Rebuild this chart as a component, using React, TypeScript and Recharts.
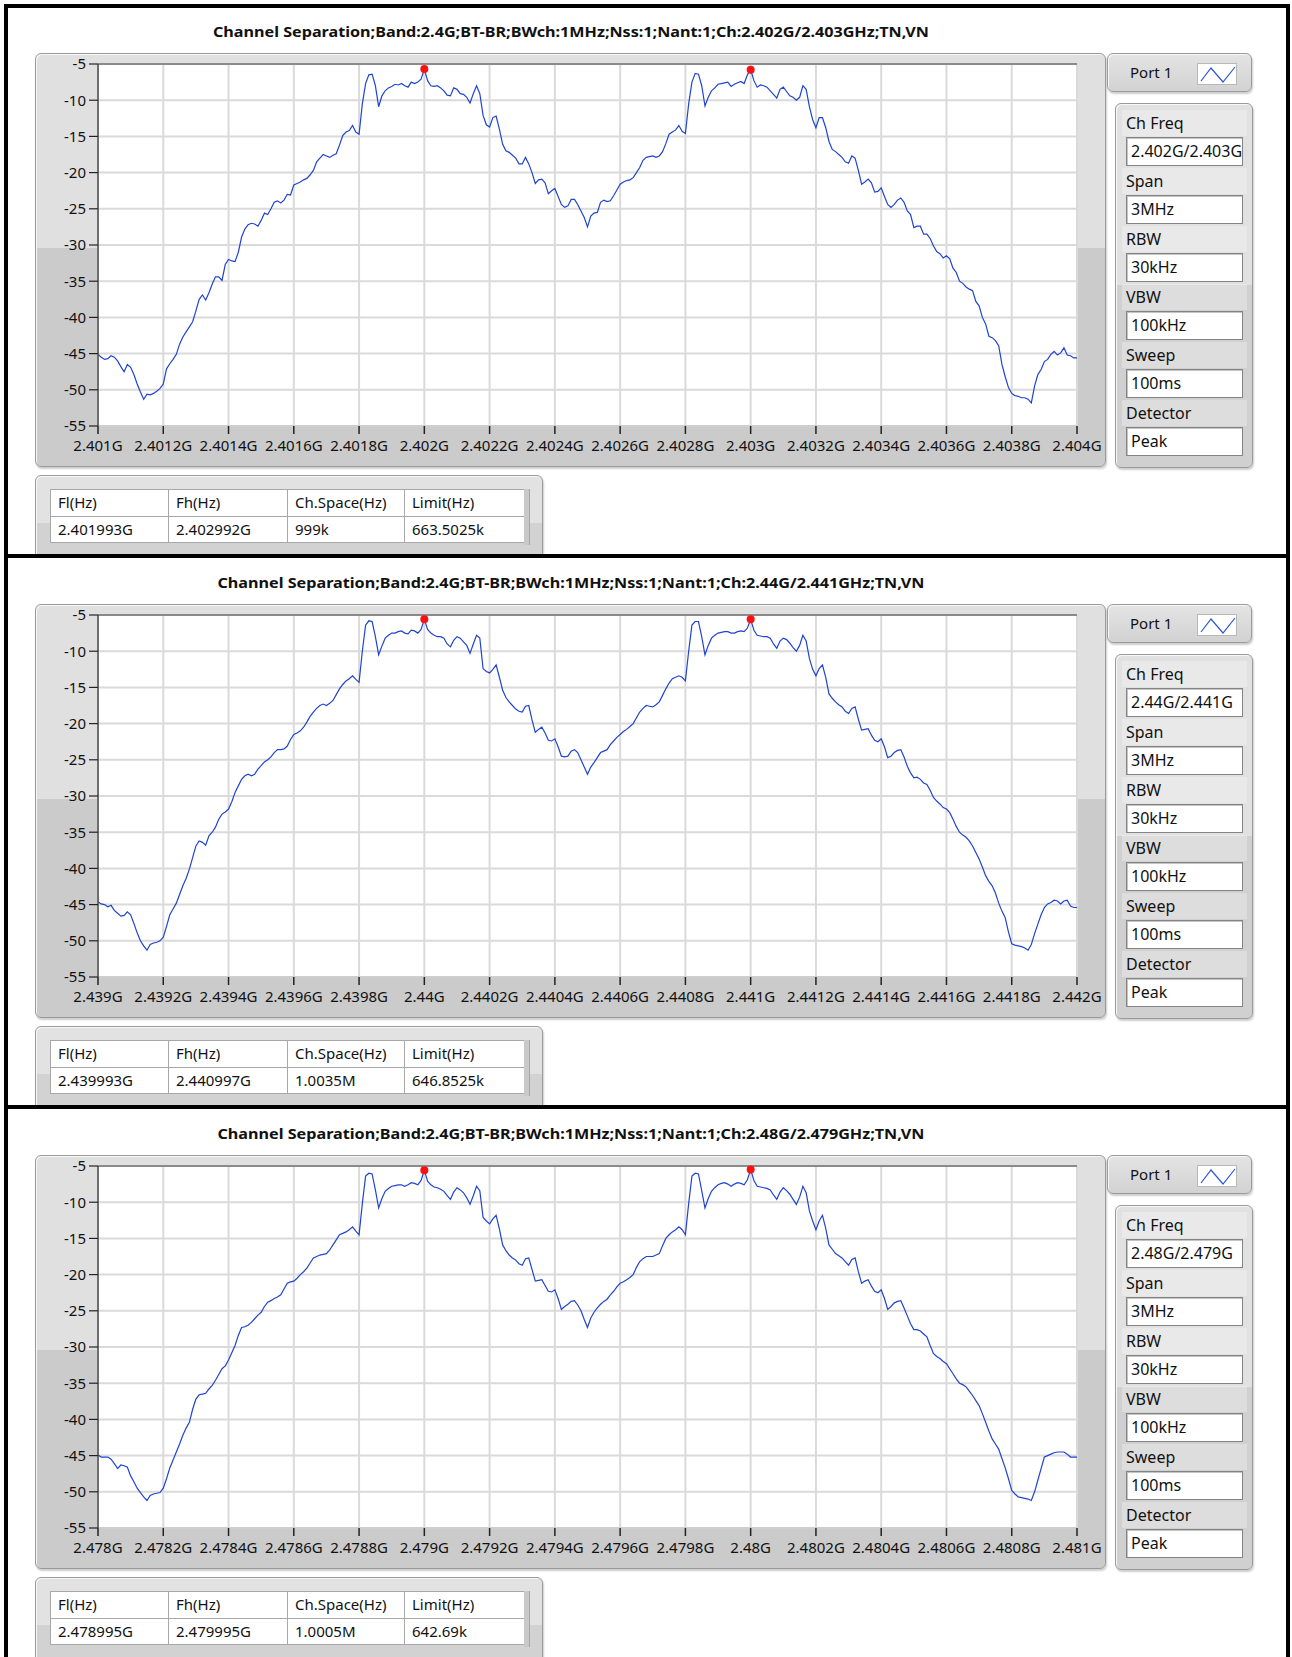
import React from 'react';
import { LineChart, Line, XAxis, YAxis, CartesianGrid, ReferenceDot, ReferenceLine } from 'recharts';

// ---------- data ----------
const titles = [
  'Channel Separation;Band:2.4G;BT-BR;BWch:1MHz;Nss:1;Nant:1;Ch:2.402G/2.403GHz;TN,VN',
  'Channel Separation;Band:2.4G;BT-BR;BWch:1MHz;Nss:1;Nant:1;Ch:2.44G/2.441GHz;TN,VN',
  'Channel Separation;Band:2.4G;BT-BR;BWch:1MHz;Nss:1;Nant:1;Ch:2.48G/2.479GHz;TN,VN',
];

const xLabels1 = ['2.401G', '2.4012G', '2.4014G', '2.4016G', '2.4018G', '2.402G', '2.4022G', '2.4024G', '2.4026G', '2.4028G', '2.403G', '2.4032G', '2.4034G', '2.4036G', '2.4038G', '2.404G'];
const xLabels2 = ['2.439G', '2.4392G', '2.4394G', '2.4396G', '2.4398G', '2.44G', '2.4402G', '2.4404G', '2.4406G', '2.4408G', '2.441G', '2.4412G', '2.4414G', '2.4416G', '2.4418G', '2.442G'];
const xLabels3 = ['2.478G', '2.4782G', '2.4784G', '2.4786G', '2.4788G', '2.479G', '2.4792G', '2.4794G', '2.4796G', '2.4798G', '2.48G', '2.4802G', '2.4804G', '2.4806G', '2.4808G', '2.481G'];
const xTickIdx = [0, 20, 40, 60, 80, 100, 120, 140, 160, 180, 200, 220, 240, 260, 280, 300];
const yTicks = [-5, -10, -15, -20, -25, -30, -35, -40, -45, -50, -55];

// trace samples, 301 points across the 3 MHz span (dBm), 10 kHz apart
const trace1 = [
  -45.1, -45.5, -45.8, -45.7, -45.3, -45.5, -46.0, -46.8, -47.5, -46.5,
  -46.9, -47.9, -49.2, -50.3, -51.3, -50.6, -50.7, -50.5, -50.2, -49.8,
  -49.2, -47.1, -46.4, -45.8, -45.1, -43.7, -42.7, -42.0, -41.3, -40.6,
  -39.1, -37.5, -36.9, -37.6, -36.6, -35.4, -34.4, -34.4, -34.9, -32.7,
  -32.0, -32.2, -32.3, -31.0, -28.9, -27.8, -27.2, -27.0, -27.1, -27.4,
  -26.6, -25.6, -25.8, -25.0, -24.1, -23.9, -24.2, -23.8, -23.0, -23.1,
  -21.7, -21.5, -21.3, -21.0, -20.8, -20.3, -19.7, -18.5, -18.0, -17.5,
  -17.7, -17.9, -17.6, -17.4, -16.2, -14.9, -14.4, -14.2, -13.5, -14.4,
  -14.7, -10.5, -7.7, -6.5, -6.4, -8.0, -10.9, -9.4, -8.7, -8.3,
  -8.1, -7.8, -7.9, -7.7, -8.0, -8.2, -7.5, -7.7, -7.5, -7.1,
  -5.7, -7.3, -8.0, -8.1, -8.0, -8.3, -8.7, -9.3, -9.4, -8.3,
  -8.5, -9.1, -9.2, -9.6, -10.4, -9.1, -8.0, -9.1, -12.1, -13.4,
  -13.7, -12.4, -12.2, -14.0, -16.1, -17.0, -17.2, -17.6, -18.0, -18.8,
  -18.8, -17.9, -18.8, -20.0, -21.5, -21.0, -20.9, -21.4, -22.9, -22.5,
  -22.2, -23.3, -24.4, -24.8, -24.6, -23.7, -23.7, -24.4, -25.3, -26.2,
  -27.5, -26.0, -25.6, -25.5, -24.1, -23.8, -24.0, -23.9, -23.2, -22.4,
  -21.6, -21.3, -21.1, -21.0, -20.7, -20.0, -19.3, -18.3, -17.9, -17.8,
  -17.7, -17.9, -17.7, -17.1, -16.0, -14.7, -14.4, -14.1, -13.5, -14.3,
  -14.6, -10.5, -7.5, -6.3, -6.4, -8.0, -10.8, -9.6, -8.7, -8.3,
  -7.8, -7.7, -7.6, -7.5, -8.1, -7.8, -7.6, -7.4, -7.7, -6.5,
  -5.8, -7.3, -8.2, -7.9, -8.0, -8.2, -8.7, -9.2, -9.7, -8.5,
  -8.2, -8.8, -9.4, -9.6, -10.0, -9.6, -8.0, -8.5, -10.9, -12.7,
  -13.8, -12.4, -12.4, -13.8, -15.7, -16.8, -17.1, -17.5, -17.9, -18.5,
  -18.7, -17.7, -18.0, -19.7, -21.6, -21.3, -20.9, -21.4, -22.7, -22.6,
  -22.1, -23.3, -24.4, -24.8, -24.4, -23.8, -23.5, -24.1, -25.3, -25.8,
  -27.6, -27.4, -27.4, -28.5, -28.5, -29.1, -30.1, -30.9, -31.2, -31.8,
  -31.5, -31.9, -33.2, -33.8, -35.0, -35.3, -35.8, -36.1, -36.3, -37.8,
  -38.4, -40.0, -40.9, -42.6, -42.8, -43.2, -43.9, -46.5, -48.2, -49.7,
  -50.5, -50.8, -50.9, -51.1, -51.1, -51.3, -51.8, -49.5, -47.9, -47.2,
  -46.1, -45.8, -45.1, -44.7, -45.2, -44.9, -44.2, -45.2, -45.3, -45.6,
  -45.6,
];
const trace2 = [
  -44.6, -44.9, -45.0, -45.3, -45.1, -45.8, -46.2, -46.6, -46.5, -46.0,
  -46.4, -47.6, -48.9, -50.0, -50.7, -51.3, -50.5, -50.3, -50.2, -50.0,
  -49.5, -48.0, -46.4, -45.6, -44.8, -43.6, -42.4, -41.4, -40.1, -38.5,
  -36.9, -36.2, -36.4, -36.8, -35.5, -35.0, -34.3, -33.2, -32.5, -32.2,
  -31.8, -30.8, -29.5, -28.6, -27.7, -27.2, -27.0, -27.2, -27.0, -26.3,
  -25.8, -25.3, -25.0, -24.6, -24.0, -23.6, -23.6, -23.5, -23.1, -22.2,
  -21.5, -21.3, -21.0, -20.5, -19.8, -19.0, -18.4, -17.9, -17.5, -17.3,
  -17.5, -17.2, -16.8, -16.0, -15.2, -14.6, -14.1, -13.8, -13.4, -13.9,
  -14.3, -10.0, -6.4, -5.8, -5.9, -8.0, -10.5, -9.3, -8.2, -7.8,
  -7.5, -7.5, -7.3, -7.2, -7.5, -7.6, -7.1, -7.2, -7.5, -7.0,
  -5.6, -7.0, -7.5, -7.8, -8.0, -8.0, -8.2, -9.0, -9.4, -8.5,
  -8.0, -8.2, -8.7, -9.2, -10.3, -9.0, -7.8, -8.2, -12.4, -12.8,
  -13.0, -12.5, -11.9, -13.6, -15.4, -16.4, -17.0, -17.5, -18.0, -18.3,
  -18.4, -17.6, -17.5, -19.5, -21.2, -20.8, -20.5, -21.3, -22.3, -22.4,
  -22.1, -23.2, -24.5, -24.6, -24.5, -23.8, -23.6, -24.0, -25.0, -26.0,
  -27.0, -26.0, -25.4, -24.7, -24.0, -23.8, -23.6, -22.9, -22.4, -21.9,
  -21.5, -21.1, -20.8, -20.4, -20.0, -19.2, -18.4, -17.9, -17.5, -17.6,
  -17.7, -17.4, -17.0, -16.1, -15.2, -14.4, -13.8, -13.6, -13.4, -13.6,
  -14.1, -10.0, -6.4, -5.9, -5.9, -8.0, -10.5, -9.2, -8.2, -7.8,
  -7.5, -7.4, -7.3, -7.3, -7.5, -7.5, -7.3, -7.2, -7.3, -6.8,
  -5.6, -7.1, -7.8, -7.9, -8.0, -8.0, -8.2, -9.0, -9.6, -8.6,
  -8.2, -8.4, -8.9, -9.5, -10.0, -9.2, -7.8, -8.6, -11.0, -12.5,
  -13.4, -12.4, -11.9, -13.6, -15.9, -16.5, -17.0, -17.4, -17.7, -18.3,
  -18.6, -17.9, -17.7, -19.4, -20.9, -20.8, -20.7, -21.6, -22.3, -22.5,
  -22.1, -23.2, -24.7, -24.5, -24.0, -23.7, -23.6, -24.6, -25.9, -26.8,
  -27.5, -27.4, -27.7, -28.2, -28.4, -29.2, -30.2, -30.7, -31.1, -31.6,
  -31.8, -32.3, -33.2, -34.2, -35.0, -35.4, -35.7, -36.2, -36.9, -37.8,
  -38.7, -39.8, -41.0, -41.8, -42.4, -43.4, -44.8, -45.9, -46.8, -48.8,
  -50.4, -50.6, -50.7, -50.8, -51.0, -51.3, -50.5, -49.0, -47.7, -46.4,
  -45.4, -44.9, -44.7, -44.4, -44.5, -44.9, -44.5, -44.4, -45.2, -45.4,
  -45.4,
];
const trace3 = [
  -44.9, -45.2, -45.2, -45.2, -45.5, -46.1, -46.8, -46.3, -46.4, -46.6,
  -47.8, -48.6, -49.5, -50.1, -50.7, -51.2, -50.5, -50.3, -50.2, -50.1,
  -49.5, -48.2, -46.7, -45.6, -44.5, -43.4, -42.2, -41.2, -40.4, -38.6,
  -37.2, -36.6, -36.5, -36.4, -35.8, -35.3, -34.6, -33.8, -33.0, -32.6,
  -31.8, -30.8, -29.8, -28.4, -27.3, -27.2, -27.0, -26.6, -26.1, -25.6,
  -25.2, -24.4, -23.8, -23.6, -23.3, -23.1, -22.8, -22.0, -21.2, -21.0,
  -20.9, -20.5, -20.0, -19.6, -19.1, -18.4, -17.7, -17.5, -17.3, -17.2,
  -17.1, -16.6, -15.9, -15.2, -14.5, -14.3, -14.1, -13.8, -13.4, -14.0,
  -14.5, -10.2, -6.4, -6.0, -6.1, -8.3, -10.8, -9.5, -8.5, -8.1,
  -7.8, -7.7, -7.6, -7.6, -7.8, -7.6, -7.3, -7.4, -7.6, -7.0,
  -5.6, -7.1, -7.6, -7.9, -8.0, -8.2, -8.5, -9.1, -9.6, -8.6,
  -8.0, -8.3, -8.7, -9.4, -10.3, -9.1, -7.8, -8.4, -12.1, -12.6,
  -13.0, -12.3, -11.8, -13.7, -15.9, -16.7, -17.3, -17.7, -18.0, -18.5,
  -18.7, -17.8, -17.7, -19.3, -20.9, -20.8, -20.7, -21.5, -22.3, -22.4,
  -22.1, -23.3, -24.8, -24.4, -24.1, -23.7, -23.6, -24.2, -25.0, -26.2,
  -27.3, -26.0, -25.2, -24.6, -24.1, -23.7, -23.4, -22.8, -22.3, -21.7,
  -21.2, -21.0, -20.7, -20.4, -20.0, -19.0, -18.2, -17.8, -17.5, -17.5,
  -17.5, -17.3, -17.1, -16.0, -15.0, -14.5, -14.1, -13.8, -13.4, -13.8,
  -14.5, -10.2, -6.4, -6.0, -6.1, -8.4, -10.8, -9.5, -8.5, -8.0,
  -7.6, -7.4, -7.3, -7.5, -7.8, -7.5, -7.3, -7.4, -7.6, -6.9,
  -5.5, -7.0, -7.8, -7.9, -8.0, -8.1, -8.3, -9.0, -9.6, -8.6,
  -8.0, -8.4, -8.9, -9.6, -10.3, -9.3, -7.8, -8.7, -11.2, -12.6,
  -13.8, -12.6, -11.8, -13.6, -15.9, -16.5, -17.1, -17.4, -17.7, -18.2,
  -18.7, -17.9, -17.7, -19.6, -21.2, -20.9, -20.7, -21.6, -22.3, -22.5,
  -22.1, -23.3, -24.8, -24.4, -23.9, -23.7, -23.6, -24.6, -25.7, -26.8,
  -27.6, -27.6, -27.8, -28.2, -28.6, -29.8, -30.9, -31.3, -31.6, -32.0,
  -32.3, -33.0, -33.7, -34.4, -35.0, -35.2, -35.5, -36.1, -36.7, -37.4,
  -38.1, -39.2, -40.4, -41.6, -42.7, -43.4, -44.1, -45.4, -46.7, -48.2,
  -49.8, -50.3, -50.7, -50.8, -50.9, -51.0, -51.2, -50.0, -48.4, -46.8,
  -45.2, -45.0, -44.8, -44.6, -44.5, -44.5, -44.5, -44.8, -45.2, -45.2,
  -45.2,
];

const markers1 = [{ i: 100, v: -5.7 }, { i: 200, v: -5.8 }];
const markers2 = [{ i: 100, v: -5.6 }, { i: 200, v: -5.6 }];
const markers3 = [{ i: 100, v: -5.6 }, { i: 200, v: -5.5 }];

const settingLabels = ['Ch Freq', 'Span', 'RBW', 'VBW', 'Sweep', 'Detector'];
const settingValues1 = ['2.402G/2.403G', '3MHz', '30kHz', '100kHz', '100ms', 'Peak'];
const settingValues2 = ['2.44G/2.441G', '3MHz', '30kHz', '100kHz', '100ms', 'Peak'];
const settingValues3 = ['2.48G/2.479G', '3MHz', '30kHz', '100kHz', '100ms', 'Peak'];

const tableHeader = ['Fl(Hz)', 'Fh(Hz)', 'Ch.Space(Hz)', 'Limit(Hz)'];
const tableRow1 = ['2.401993G', '2.402992G', '999k', '663.5025k'];
const tableRow2 = ['2.439993G', '2.440997G', '1.0035M', '646.8525k'];
const tableRow3 = ['2.478995G', '2.479995G', '1.0005M', '642.69k'];

const portLabel = 'Port 1';

// ---------- styling ----------
const FONT = '"Noto Sans", "DejaVu Sans", sans-serif';
const TEXT = '#111111';

function Spectrum({ trace, markers, xLabels }: any) {
  const rows = trace.map((v: number, i: number) => ({ i, v }));
  const tickStyle = { fill: TEXT, fontSize: 15, fontFamily: FONT };
  return (
    <LineChart width={1071} height={414} data={rows} margin={{ top: 11, right: 29, bottom: 0, left: 0 }}>
      <CartesianGrid stroke="#dadada" strokeWidth={2} fill="#ffffff" />
      <XAxis
        dataKey="i"
        type="number"
        domain={[0, 300]}
        ticks={xTickIdx}
        interval={0}
        tickFormatter={(t: number) => xLabels[Math.round(t / 20)]}
        height={41}
        tickSize={8}
        tickMargin={6}
        axisLine={{ stroke: '#c2c2c2', strokeWidth: 1 }}
        tickLine={{ stroke: '#222', strokeWidth: 1.5 }}
        tick={tickStyle}
      />
      <YAxis
        type="number"
        domain={[-55, -5]}
        ticks={yTicks}
        interval={0}
        width={63}
        tickSize={9}
        tickMargin={3}
        axisLine={{ stroke: '#4a4a4a', strokeWidth: 1.5 }}
        tickLine={{ stroke: '#222', strokeWidth: 1.2 }}
        tick={tickStyle}
      />
      <ReferenceLine y={-5} stroke="#8a8a8a" strokeWidth={2} />
      <Line dataKey="v" stroke="#1f44d2" strokeWidth={1.2} dot={false} isAnimationActive={false} />
      {markers.map((m: any, k: number) => (
        <ReferenceDot key={k} x={m.i} y={m.v} r={4} fill="#ff1010" stroke="none" />
      ))}
    </LineChart>
  );
}

const bevel = {
  boxSizing: 'border-box' as const,
  border: '1px solid #9a9a9a',
  borderRadius: 6,
  boxShadow: '1px 2px 2px rgba(0,0,0,0.2), inset 1px 1px 0 #f7f7f7',
};

function Panel({ top, height, title, titleWidth, trace, markers, xLabels, values, row }: any) {
  return (
    <div style={{ position: 'absolute', left: 0, top, width: 1292, height, overflow: 'hidden' }}>
      <svg width={1292} height={50} style={{ position: 'absolute', left: 0, top: 0 }}>
        <text x={571} y={37} textAnchor="middle" fontFamily={FONT} fontWeight={700} fontSize={15} fill="#111"
          textLength={titleWidth} lengthAdjust="spacingAndGlyphs">{title}</text>
      </svg>

      {/* graph frame */}
      <div style={{ ...bevel, position: 'absolute', left: 35, top: 53, width: 1071, height: 414,
        background: 'linear-gradient(#e0e0e0 0%, #e0e0e0 47%, #cbcbcb 47%, #cbcbcb 100%)' }} />
      <div style={{ position: 'absolute', left: 35, top: 53 }}>
        <Spectrum trace={trace} markers={markers} xLabels={xLabels} />
      </div>

      {/* legend box */}
      <div style={{ ...bevel, position: 'absolute', left: 1107, top: 53, width: 145, height: 39,
        background: 'linear-gradient(#e4e4e4, #d2d2d2)' }} />
      <div style={{ position: 'absolute', left: 1130, top: 53, height: 39, lineHeight: '39px', fontFamily: FONT, fontSize: 15, color: TEXT }}>{portLabel}</div>
      <svg width={40} height={22} style={{ position: 'absolute', left: 1197, top: 63, background: '#fff', border: '1px solid #b8b8b8', boxSizing: 'border-box' }}>
        <polyline points="3,17 13,4 25,18 37,3" fill="none" stroke="#2a55d8" strokeWidth={1.2} />
      </svg>

      {/* settings panel */}
      <div style={{ ...bevel, position: 'absolute', left: 1115, top: 103, width: 138, height: 365,
        background: 'linear-gradient(#e1e1e1 0%, #e1e1e1 50%, #d0d0d0 50%, #d0d0d0 100%)' }} />
      {settingLabels.map((lab: string, k: number) => (
        <React.Fragment key={k}>
          <div style={{ position: 'absolute', left: 1122, top: 110 + k * 58, width: 125, height: 26,
            background: 'rgba(255,255,255,0.28)', fontFamily: FONT, fontSize: 16, color: TEXT,
            lineHeight: '26px', paddingLeft: 4, boxSizing: 'border-box' }}>{lab}</div>
          <div style={{ position: 'absolute', left: 1126, top: 137 + k * 58, width: 117, height: 29,
            background: '#fff', border: '1px solid #848484', boxShadow: 'inset 1px 1px 0 #c4c4c4',
            boxSizing: 'border-box', fontFamily: FONT, fontSize: 16, color: TEXT, lineHeight: '27px', paddingLeft: 4 }}>
            {values[k]}
          </div>
        </React.Fragment>
      ))}

      {/* result table */}
      <div style={{ ...bevel, position: 'absolute', left: 35, top: 475, width: 508, height: 120,
        background: 'linear-gradient(#e2e2e2 0%, #e2e2e2 40%, #d2d2d2 40%, #d2d2d2 100%)' }} />
      <div style={{ position: 'absolute', left: 524, top: 489, width: 5, height: 56, background: '#c9c9c9', borderRight: '1px solid #a6a6a6' }} />
      {[tableHeader, row].map((cells: string[], r: number) => (
        <div key={r} style={{ position: 'absolute', left: 50, top: 489 + r * 27, height: 27, display: 'flex' }}>
          {cells.map((c: string, k: number) => (
            <div key={k} style={{ width: [118, 119, 117, 120][k], height: 27, boxSizing: 'border-box',
              background: '#fff', borderLeft: '1px solid #a8a8a8', borderTop: '1px solid #a8a8a8',
              borderBottom: r === 1 ? '1px solid #a8a8a8' : 'none',
              fontFamily: FONT, fontSize: 15, color: TEXT, lineHeight: '25px', paddingLeft: 7 }}>{c}</div>
          ))}
        </div>
      ))}
    </div>
  );
}

export default function App() {
  return (
    <div style={{ position: 'absolute', left: 0, top: 0, width: 1292, height: 1657, background: '#fff', overflow: 'hidden' }}>
      <Panel top={0} height={554} title={titles[0]} titleWidth={716} trace={trace1} markers={markers1} xLabels={xLabels1} values={settingValues1} row={tableRow1} />
      <Panel top={551} height={554} title={titles[1]} titleWidth={707} trace={trace2} markers={markers2} xLabels={xLabels2} values={settingValues2} row={tableRow2} />
      <Panel top={1102} height={555} title={titles[2]} titleWidth={707} trace={trace3} markers={markers3} xLabels={xLabels3} values={settingValues3} row={tableRow3} />
      {/* black frame */}
      <div style={{ position: 'absolute', left: 4, top: 4, width: 1286, height: 4, background: '#000' }} />
      <div style={{ position: 'absolute', left: 4, top: 554, width: 1286, height: 4, background: '#000' }} />
      <div style={{ position: 'absolute', left: 4, top: 1105, width: 1286, height: 4, background: '#000' }} />
      <div style={{ position: 'absolute', left: 4, top: 4, width: 4, height: 1653, background: '#000' }} />
      <div style={{ position: 'absolute', left: 1286, top: 4, width: 4, height: 1653, background: '#000' }} />
    </div>
  );
}
